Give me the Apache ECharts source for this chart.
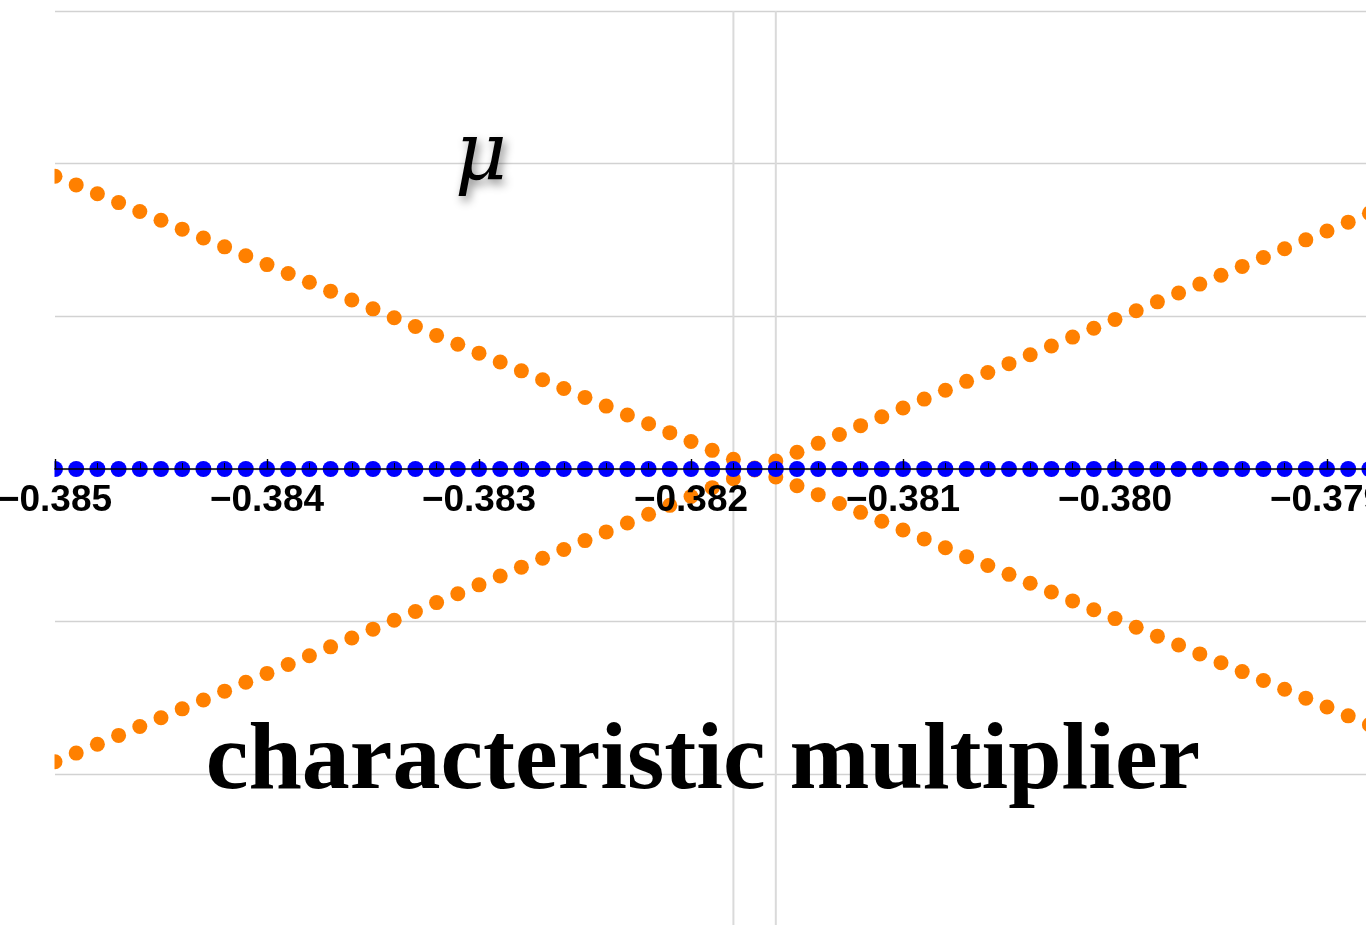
<!DOCTYPE html>
<html>
<head>
<meta charset="utf-8">
<title>characteristic multiplier</title>
<script src="https://cdn.jsdelivr.net/npm/echarts@6/dist/echarts.min.js"></script>
<style>
  html, body { margin: 0; padding: 0; background: #ffffff; }
  #chart { width: 1366px; height: 925px; }
</style>
</head>
<body>
<div id="chart"></div>
<script>
// Parameter samples along the horizontal axis
const params = [
  -0.3850, -0.3849, -0.3848, -0.3847, -0.3846, -0.3845, -0.3844, -0.3843, -0.3842, -0.3841,
  -0.3840, -0.3839, -0.3838, -0.3837, -0.3836, -0.3835, -0.3834, -0.3833, -0.3832, -0.3831,
  -0.3830, -0.3829, -0.3828, -0.3827, -0.3826, -0.3825, -0.3824, -0.3823, -0.3822, -0.3821,
  -0.3820, -0.3819, -0.3818, -0.3817, -0.3816, -0.3815, -0.3814, -0.3813, -0.3812, -0.3811,
  -0.3810, -0.3809, -0.3808, -0.3807, -0.3806, -0.3805, -0.3804, -0.3803, -0.3802, -0.3801,
  -0.3800, -0.3799, -0.3798, -0.3797, -0.3796, -0.3795, -0.3794, -0.3793, -0.3792, -0.3791,
  -0.3790, -0.3789, -0.3788, -0.3787, -0.3786, -0.3785, -0.3784, -0.3783, -0.3782, -0.3781,
  -0.3780
];

// Multiplier branch falling from upper left to lower right
const branchA = [
  1.918, 1.861, 1.803, 1.745, 1.687, 1.629, 1.571, 1.513, 1.455, 1.397,
  1.339, 1.281, 1.223, 1.165, 1.107, 1.049, 0.991, 0.933, 0.875, 0.817,
  0.759, 0.701, 0.643, 0.585, 0.527, 0.469, 0.412, 0.354, 0.296, 0.238,
  0.180, 0.122, 0.064, 0.006, -0.052, -0.110, -0.168, -0.226, -0.284, -0.342,
  -0.400, -0.458, -0.516, -0.574, -0.632, -0.690, -0.748, -0.806, -0.864, -0.922,
  -0.980, -1.037, -1.095, -1.153, -1.211, -1.269, -1.327, -1.385, -1.443, -1.501,
  -1.559, -1.617, -1.675, -1.733, -1.791, -1.849, -1.907, -1.965, -2.023, -2.081,
  -2.139
];

// Multiplier branch rising from lower left to upper right
const branchB = [
  -1.918, -1.861, -1.803, -1.745, -1.687, -1.629, -1.571, -1.513, -1.455, -1.397,
  -1.339, -1.281, -1.223, -1.165, -1.107, -1.049, -0.991, -0.933, -0.875, -0.817,
  -0.759, -0.701, -0.643, -0.585, -0.527, -0.469, -0.412, -0.354, -0.296, -0.238,
  -0.180, -0.122, -0.064, -0.006, 0.052, 0.110, 0.168, 0.226, 0.284, 0.342,
  0.400, 0.458, 0.516, 0.574, 0.632, 0.690, 0.748, 0.806, 0.864, 0.922,
  0.980, 1.037, 1.095, 1.153, 1.211, 1.269, 1.327, 1.385, 1.443, 1.501,
  1.559, 1.617, 1.675, 1.733, 1.791, 1.849, 1.907, 1.965, 2.023, 2.081,
  2.139
];

// Branch lying on the axis
const branchZero = [
  0, 0, 0, 0, 0, 0, 0, 0, 0, 0,
  0, 0, 0, 0, 0, 0, 0, 0, 0, 0,
  0, 0, 0, 0, 0, 0, 0, 0, 0, 0,
  0, 0, 0, 0, 0, 0, 0, 0, 0, 0,
  0, 0, 0, 0, 0, 0, 0, 0, 0, 0,
  0, 0, 0, 0, 0, 0, 0, 0, 0, 0,
  0, 0, 0, 0, 0, 0, 0, 0, 0, 0,
  0
];

// Parameter values marked with vertical guides
const guideParams = [-0.3818, -0.3816];

// Vertical extent of the plot
const yMin = -3;
const yMax = 3;

// Plot frame in pixels
const plotLeft = 55;
const plotTop = 11;
const plotWidth = 1484;
const plotHeight = 916;

const pairs = (ys) => params.map((x, i) => [x, ys[i]]);
const fmtTick = (v) => (v < 0 ? '\u2212' : '') + Math.abs(v).toFixed(3);

const chart = echarts.init(document.getElementById('chart'), null, { renderer: 'canvas' });

const guideSeries = guideParams.map((g) => ({
  type: 'line',
  data: [[g, yMin], [g, yMax]],
  symbol: 'none',
  silent: true,
  z: 1,
  lineStyle: { color: '#dadada', width: 2 }
}));

const dotSeries = [
  { data: pairs(branchA), color: '#ff8000', size: 15, z: 2 },
  { data: pairs(branchB), color: '#ff8000', size: 15, z: 2 },
  { data: pairs(branchZero), color: '#0000ff', size: 16, z: 3 }
].map((s) => ({
  type: 'scatter',
  data: s.data,
  symbol: 'circle',
  symbolSize: s.size,
  clip: true,
  z: s.z,
  itemStyle: { color: s.color, opacity: 1 }
}));

// The horizontal axis sits on the y = 0 line: shift it up from the frame bottom
const zeroOffset = -plotHeight * (0 - yMin) / (yMax - yMin);

chart.setOption({
  animation: false,
  backgroundColor: '#ffffff',
  grid: {
    left: plotLeft, top: plotTop, width: plotWidth, height: plotHeight,
    containLabel: false,
    outerBoundsMode: 'none'
  },
  xAxis: {
    type: 'value',
    position: 'bottom',
    offset: zeroOffset,
    min: -0.385,
    max: -0.378,
    interval: 0.001,
    z: 6,
    axisLine: { onZero: false, lineStyle: { color: '#000000', width: 1.6 } },
    axisTick: { show: true, inside: true, length: 10, lineStyle: { color: '#000000', width: 1.4 } },
    minorTick: { show: true, splitNumber: 5, length: 6, lineStyle: { color: '#000000', width: 1 } },
    splitLine: { show: false },
    axisLabel: {
      formatter: fmtTick,
      fontFamily: '"Liberation Sans", Arial, sans-serif',
      fontWeight: 'bold',
      fontSize: 37,
      color: '#000000',
      margin: 13,
      hideOverlap: false
    }
  },
  yAxis: {
    type: 'value',
    min: yMin,
    max: yMax,
    interval: 1,
    axisLine: { show: false, onZero: false },
    axisTick: { show: false },
    axisLabel: { show: false },
    splitLine: { show: true, lineStyle: { color: '#d2d2d2', width: 1.4 } }
  },
  series: guideSeries.concat(dotSeries),
  graphic: [
    {
      // blank margin left of the frame, so edge dots show as half discs
      type: 'rect',
      z: 4,
      silent: true,
      shape: { x: 0, y: 0, width: plotLeft - 0.5, height: 925 },
      style: { fill: '#ffffff' }
    },
    {
      type: 'text',
      z: 20,
      style: {
        text: '\u03bc',
        x: 481,
        y: 158,
        textAlign: 'center',
        textVerticalAlign: 'middle',
        font: 'italic 80px "DejaVu Serif", serif',
        fill: '#000000',
        textShadowColor: 'rgba(0,0,0,0.45)',
        textShadowBlur: 10,
        textShadowOffsetX: 3,
        textShadowOffsetY: 5
      }
    },
    {
      type: 'text',
      z: 20,
      style: {
        text: 'characteristic multiplier',
        x: 703,
        y: 715,
        textAlign: 'center',
        textVerticalAlign: 'top',
        font: 'bold 96px "Liberation Serif", "Times New Roman", serif',
        fill: '#000000'
      }
    }
  ]
});
</script>
</body>
</html>
